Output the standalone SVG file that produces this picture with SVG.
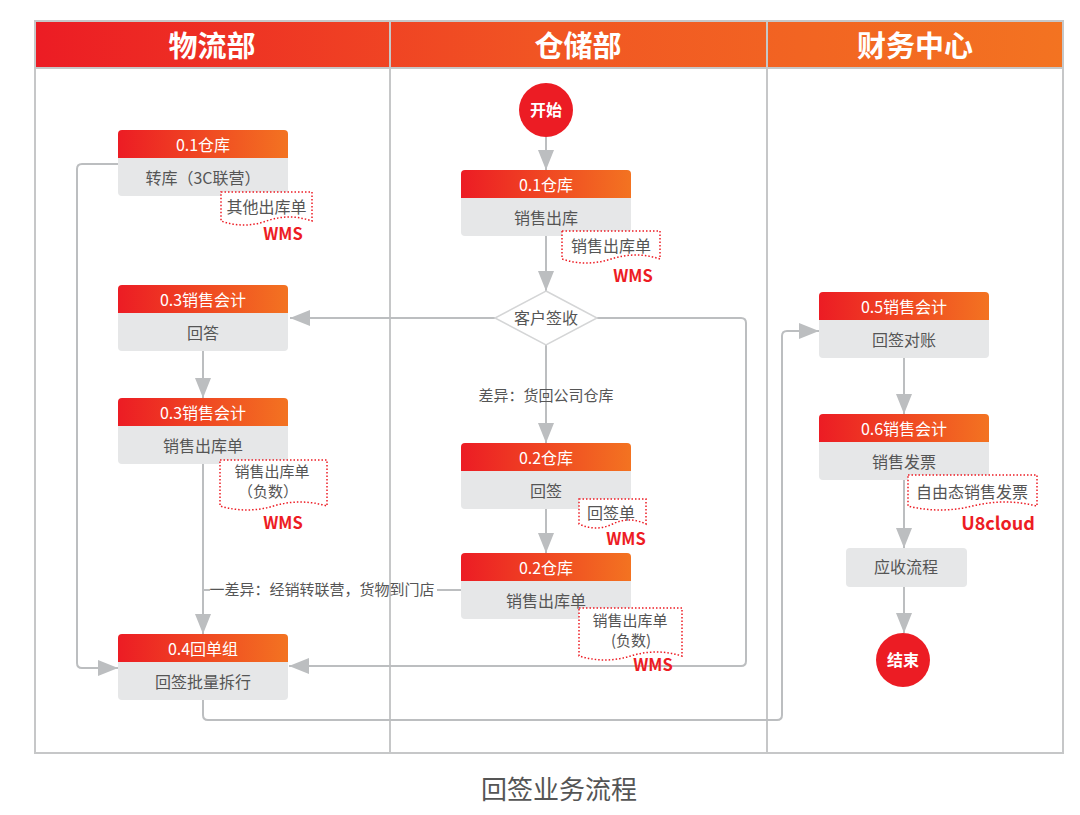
<svg xmlns="http://www.w3.org/2000/svg" xmlns:xlink="http://www.w3.org/1999/xlink" width="1080" height="815" viewBox="0 0 1080 815">
<defs>
<linearGradient id="hg" x1="0" y1="0" x2="1" y2="0">
<stop offset="0" stop-color="#ec1c24"/>
<stop offset="1" stop-color="#f37321"/>
</linearGradient>
<linearGradient id="bar" gradientUnits="userSpaceOnUse" x1="35" y1="0" x2="1063" y2="0">
<stop offset="0" stop-color="#ec1c24"/>
<stop offset="0.5" stop-color="#f15623"/>
<stop offset="1" stop-color="#f37321"/>
</linearGradient>
<path id="hdr" d="M0,28 V4 Q0,0 4,0 H166 Q170,0 170,4 V28 Z"/>
<path id="bdy" d="M0,28 H170 V62 Q170,66 166,66 H4 Q0,66 0,62 Z"/>
<marker id="ar" markerUnits="userSpaceOnUse" markerWidth="20" markerHeight="16" refX="20" refY="8" orient="auto">
<path d="M0,0 L20,8 L0,16 Z" fill="#bcbec0"/>
</marker>
<style>
text{font-family:"Noto Sans CJK SC","Noto Sans",sans-serif;}
.hdr{fill:url(#hg);}
.bdy{fill:#e6e7e8;}
.ht{font-size:16px;fill:#ffffff;text-anchor:middle;}
.bt{font-size:16px;fill:#555555;text-anchor:middle;}
.lane{font-size:29px;font-weight:bold;fill:#ffffff;text-anchor:middle;}
.frame{fill:none;stroke:#c6c7c8;stroke-width:2;}
.con{fill:none;stroke:#bcbec0;stroke-width:2;}
.arr{marker-end:url(#ar);}
.doc{fill:#ffffff;stroke:#ed1c24;stroke-width:1.5;stroke-dasharray:1.5 2;}
.dt{font-size:16px;fill:#555555;text-anchor:middle;}
.dt2{font-size:15px;fill:#555555;text-anchor:middle;}
.sys{font-size:16.5px;font-weight:bold;fill:#ed1c24;text-anchor:middle;}
.lbl{font-size:15px;fill:#555555;text-anchor:middle;}
.circ{fill:#ec1c24;}
.ct{font-size:16px;font-weight:bold;fill:#ffffff;text-anchor:middle;}
</style>
</defs>
<rect width="1080" height="815" fill="#ffffff"/>

<g id="lanes">
<rect x="35" y="22" width="1028" height="46" fill="url(#bar)"/>
<rect class="frame" x="35" y="21" width="1028" height="732"/>
<line class="frame" x1="35" y1="68" x2="1063" y2="68"/>
<line class="frame" x1="390" y1="21" x2="390" y2="753"/>
<line class="frame" x1="767" y1="21" x2="767" y2="753"/>
<text class="lane" x="212" y="57">物流部</text>
<text class="lane" x="578" y="57">仓储部</text>
<text class="lane" x="915" y="57">财务中心</text>
</g>

<g id="connectors">
<path class="con arr" d="M546,137 V170"/>
<path class="con arr" d="M546,236 V291"/>
<path class="con arr" d="M495,318 H290"/>
<path class="con arr" d="M597,318 H741 Q746,318 746,323 V661 Q746,666 741,666 H289"/>
<path class="con arr" d="M546,345 V443"/>
<text class="lbl" x="546" y="401">差异：货回公司仓库</text>
<path class="con arr" d="M546,509 V553"/>
<path class="con" d="M461,590 H437"/>
<path class="con" d="M210,590 H203"/>
<text class="lbl" x="322" y="595">一差异：经销转联营，货物到门店</text>
<path class="con arr" d="M203,351 V398"/>
<path class="con arr" d="M203,464 V634"/>
<path class="con arr" d="M118,164 H82 Q77,164 77,169 V663 Q77,668 82,668 H118"/>
<path class="con arr" d="M203,700 V715 Q203,720 208,720 H777 Q782,720 782,715 V336 Q782,331 787,331 H819"/>
<path class="con arr" d="M904,357 V414"/>
<path class="con arr" d="M904,479 V548"/>
<path class="con arr" d="M904,587 V633"/>
</g>

<g id="start">
<circle class="circ" cx="546" cy="110" r="27"/>
<text class="ct" x="546" y="116">开始</text>
</g>

<g id="n-a" transform="translate(118,130)">
<use xlink:href="#hdr" class="hdr"/><use xlink:href="#bdy" class="bdy"/>
<text class="ht" x="85" y="21">0.1仓库</text>
<text class="bt" x="85" y="54">转库（3C联营）</text>
</g>
<g id="doc-a">
<path class="doc" d="M221,192 H312 V221 Q289,213 266.5,221 T221,221 Z"/>
<text class="dt" x="266.5" y="213">其他出库单</text>
<text class="sys" x="283" y="240">WMS</text>
</g>

<g id="n-b" transform="translate(461,170)">
<use xlink:href="#hdr" class="hdr"/><use xlink:href="#bdy" class="bdy"/>
<text class="ht" x="85" y="21">0.1仓库</text>
<text class="bt" x="85" y="54">销售出库</text>
</g>
<g id="doc-b">
<path class="doc" d="M562,231 H660 V259 Q635.5,251 611,259 T562,259 Z"/>
<text class="dt" x="611" y="252">销售出库单</text>
<text class="sys" x="633" y="282">WMS</text>
</g>

<g id="decision">
<path d="M546,291 L597,318 L546,345 L495,318 Z" fill="#ffffff" stroke="#d4d5d6" stroke-width="1.5"/>
<text class="bt" x="546" y="324">客户签收</text>
</g>

<g id="n-c" transform="translate(118,285)">
<use xlink:href="#hdr" class="hdr"/><use xlink:href="#bdy" class="bdy"/>
<text class="ht" x="85" y="21">0.3销售会计</text>
<text class="bt" x="85" y="54">回答</text>
</g>

<g id="n-d" transform="translate(118,398)">
<use xlink:href="#hdr" class="hdr"/><use xlink:href="#bdy" class="bdy"/>
<text class="ht" x="85" y="21">0.3销售会计</text>
<text class="bt" x="85" y="54">销售出库单</text>
</g>
<g id="doc-d">
<path class="doc" d="M220,460 H327 V506 Q300,498 273.5,506 T220,506 Z"/>
<text class="dt2" x="272" y="477">销售出库单</text>
<text class="dt2" x="268" y="497">（负数）</text>
<text class="sys" x="283" y="529">WMS</text>
</g>

<g id="n-e" transform="translate(461,443)">
<use xlink:href="#hdr" class="hdr"/><use xlink:href="#bdy" class="bdy"/>
<text class="ht" x="85" y="21">0.2仓库</text>
<text class="bt" x="85" y="54">回签</text>
</g>
<g id="doc-e">
<path class="doc" d="M579,499 H646 V524 Q629,516 612.5,524 T579,524 Z"/>
<text class="dt" x="611" y="519">回签单</text>
<text class="sys" x="626" y="545">WMS</text>
</g>

<g id="n-f" transform="translate(461,553)">
<use xlink:href="#hdr" class="hdr"/><use xlink:href="#bdy" class="bdy"/>
<text class="ht" x="85" y="21">0.2仓库</text>
<text class="bt" x="85" y="54">销售出库单</text>
</g>
<g id="doc-f">
<path class="doc" d="M579,608 H682 V656 Q656,648 630.5,656 T579,656 Z"/>
<text class="dt2" x="630" y="626">销售出库单</text>
<text class="dt2" x="631" y="646">(负数)</text>
<text class="sys" x="653" y="671">WMS</text>
</g>

<g id="n-g" transform="translate(118,634)">
<use xlink:href="#hdr" class="hdr"/><use xlink:href="#bdy" class="bdy"/>
<text class="ht" x="85" y="21">0.4回单组</text>
<text class="bt" x="85" y="54">回签批量拆行</text>
</g>

<g id="n-h" transform="translate(819,292)">
<use xlink:href="#hdr" class="hdr"/><use xlink:href="#bdy" class="bdy"/>
<text class="ht" x="85" y="21">0.5销售会计</text>
<text class="bt" x="85" y="54">回签对账</text>
</g>

<g id="n-i" transform="translate(819,414)">
<use xlink:href="#hdr" class="hdr"/><use xlink:href="#bdy" class="bdy"/>
<text class="ht" x="85" y="21">0.6销售会计</text>
<text class="bt" x="85" y="54">销售发票</text>
</g>
<g id="doc-i">
<path class="doc" d="M908,475 H1037 V506 Q1005,498 972.5,506 T908,506 Z"/>
<text class="dt" x="972" y="498">自由态销售发票</text>
<text class="sys" x="998" y="530" style="font-size:18px">U8cloud</text>
</g>

<g id="n-j">
<rect x="846" y="548" width="121" height="39" rx="4" class="bdy"/>
<text class="bt" x="906" y="573">应收流程</text>
</g>

<g id="end">
<circle class="circ" cx="903" cy="660" r="27"/>
<text class="ct" x="903" y="666">结束</text>
</g>

<text x="559" y="799" style="font-size:26px;fill:#555555;text-anchor:middle">回签业务流程</text>
</svg>
